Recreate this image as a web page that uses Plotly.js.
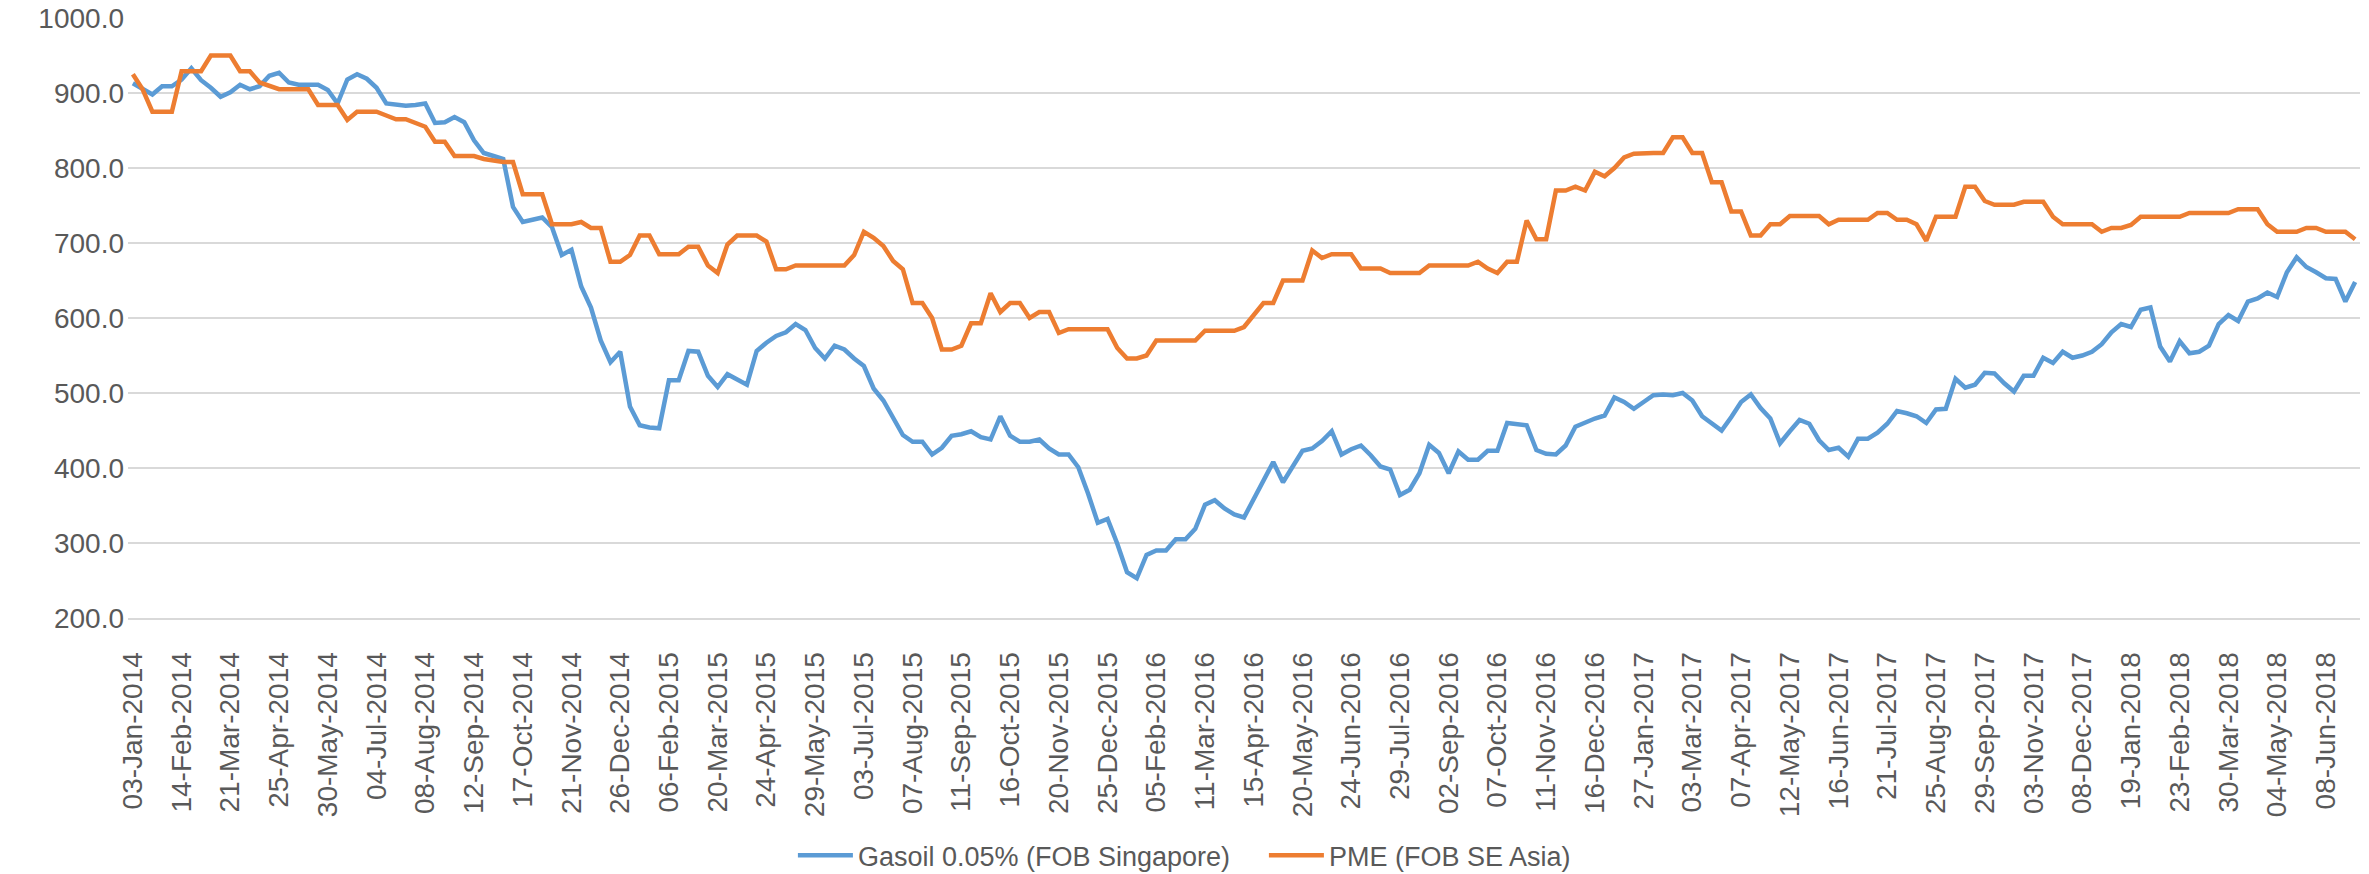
<!DOCTYPE html>
<html>
<head>
<meta charset="utf-8">
<script src="https://cdn.plot.ly/plotly-3.0.1.min.js"></script>
<style>
html,body{margin:0;padding:0;background:#fff;}
#chart{width:2369px;height:874px;}
</style>
</head>
<body>
<div id="chart"></div>
<script>
// Tick labels shown every 5th weekly observation
const tickLabels = [
  "03-Jan-2014","14-Feb-2014","21-Mar-2014","25-Apr-2014","30-May-2014","04-Jul-2014","08-Aug-2014","12-Sep-2014","17-Oct-2014","21-Nov-2014",
  "26-Dec-2014","06-Feb-2015","20-Mar-2015","24-Apr-2015","29-May-2015","03-Jul-2015","07-Aug-2015","11-Sep-2015","16-Oct-2015","20-Nov-2015",
  "25-Dec-2015","05-Feb-2016","11-Mar-2016","15-Apr-2016","20-May-2016","24-Jun-2016","29-Jul-2016","02-Sep-2016","07-Oct-2016","11-Nov-2016",
  "16-Dec-2016","27-Jan-2017","03-Mar-2017","07-Apr-2017","12-May-2017","16-Jun-2017","21-Jul-2017","25-Aug-2017","29-Sep-2017","03-Nov-2017",
  "08-Dec-2017","19-Jan-2018","23-Feb-2018","30-Mar-2018","04-May-2018","08-Jun-2018"
];
const labelEvery = 5;

// Gasoil 0.05% (FOB Singapore), weekly
const gasoil = [
  913,906,898,909,909,918,933,917,907,895,
  901,911,905,909,923,927,914,911,911,911,
  904,886,918,925,919,907,886,884,883,884,
  886,860,861,868,861,837,820,816,812,748,
  728,731,734,721,684,691,642,614,570,541,
  555,482,457,454,453,517,517,556,555,523,
  508,525,518,511,556,567,576,581,592,584,
  560,546,563,558,546,536,506,490,467,444,
  435,435,418,427,443,445,449,441,438,469,
  443,435,435,438,426,418,418,401,366,327,
  332,299,261,253,284,290,290,305,305,319,
  351,357,346,338,334,358,383,408,381,403,
  423,426,436,449,418,425,430,417,402,398,
  364,371,393,431,420,393,422,411,411,423,
  423,460,459,457,424,419,418,430,455,461,
  466,470,494,488,479,488,497,498,497,500,
  490,469,460,450,468,488,498,480,466,433,
  449,464,459,437,424,427,415,439,439,447,
  459,476,473,469,460,478,479,519,507,511,
  527,526,513,502,523,523,547,540,555,547,
  550,555,565,581,592,588,611,614,562,542,
  569,553,555,563,592,604,596,622,626,634,
  628,661,681,668,661,653,652,622,648
];

// PME (FOB SE Asia), weekly
const pme = [
  925,905,875,875,875,929,929,929,950,950,
  950,929,929,914,909,905,905,905,905,884,
  884,884,864,875,875,875,870,865,865,860,
  855,835,835,816,816,816,812,810,808,808,
  765,765,765,725,725,725,728,720,720,675,
  675,684,710,710,685,685,685,695,695,670,
  660,698,710,710,710,702,665,665,670,670,
  670,670,670,670,684,715,707,696,676,665,
  620,620,600,558,558,563,593,593,633,608,
  620,620,600,608,608,580,585,585,585,585,
  585,560,546,546,550,570,570,570,570,570,
  583,583,583,583,588,605,620,620,650,650,
  650,690,680,685,685,685,666,666,666,660,
  660,660,660,670,670,670,670,670,675,666,
  660,675,675,730,705,705,770,770,775,770,
  795,789,800,814,819,820,820,820,841,841,
  820,820,781,781,742,742,710,710,725,725,
  736,736,736,736,725,731,731,731,731,740,
  740,731,731,725,703,735,735,735,775,775,
  756,751,751,751,755,755,755,735,725,725,
  725,725,715,720,720,724,735,735,735,735,
  735,740,740,740,740,740,745,745,745,725,
  715,715,715,720,720,715,715,715,705
];

const seriesNames = ["Gasoil 0.05% (FOB Singapore)", "PME (FOB SE Asia)"];
const seriesColors = ["#5B9BD5", "#ED7D31"];

const xIdx = gasoil.map((_, i) => i);
const tickVals = tickLabels.map((_, k) => k * labelEvery);
const legendSample = 55;      // length of the legend line samples

const traces = [gasoil, pme].map((vals, s) => ({
  type: "scatter",
  mode: "lines",
  x: xIdx,
  y: vals,
  name: seriesNames[s],
  line: {color: seriesColors[s], width: 4.5, shape: "linear"},
  hoverinfo: "skip"
}));

const layout = {
  width: 2369,
  height: 874,
  paper_bgcolor: "#ffffff",
  plot_bgcolor: "#ffffff",
  margin: {l: 128, r: 9, t: 18, b: 256, pad: 0},
  showlegend: true,
  legend: {
    orientation: "h",
    xref: "container",
    yref: "container",
    x: 0.3347,
    xanchor: "left",
    y: 0.021,
    yanchor: "middle",
    bgcolor: "rgba(0,0,0,0)",
    font: {family: "Liberation Sans, Arial, sans-serif", size: 27, color: "#595959"},
    itemwidth: legendSample,
    entrywidthmode: "pixels",
    entrywidth: 401,
    tracegroupgap: 0
  },
  xaxis: {
    range: [-0.5, gasoil.length - 0.5],
    tickmode: "array",
    tickvals: tickVals,
    ticktext: tickLabels,
    tickangle: -90,
    ticks: "",
    showgrid: false,
    zeroline: false,
    showline: true,
    linecolor: "#D9D9D9",
    linewidth: 2,
    ticklabelstandoff: 21,
    tickfont: {family: "Liberation Sans, Arial, sans-serif", size: 28, color: "#595959"},
    fixedrange: true
  },
  yaxis: {
    range: [200, 1000],
    dtick: 100,
    tick0: 200,
    tickformat: ".1f",
    ticks: "",
    showgrid: true,
    gridcolor: "#D9D9D9",
    gridwidth: 2,
    zeroline: false,
    showline: false,
    ticklabelstandoff: 3,
    tickfont: {family: "Liberation Sans, Arial, sans-serif", size: 28, color: "#595959"},
    fixedrange: true
  }
};

Plotly.newPlot("chart", traces, layout, {displayModeBar: false, staticPlot: true}).then(gd => {
  gd.querySelectorAll(".legend path.js-line").forEach(p => {
    p.setAttribute("d", "M5,0h" + legendSample);
  });
});
</script>
</body>
</html>
